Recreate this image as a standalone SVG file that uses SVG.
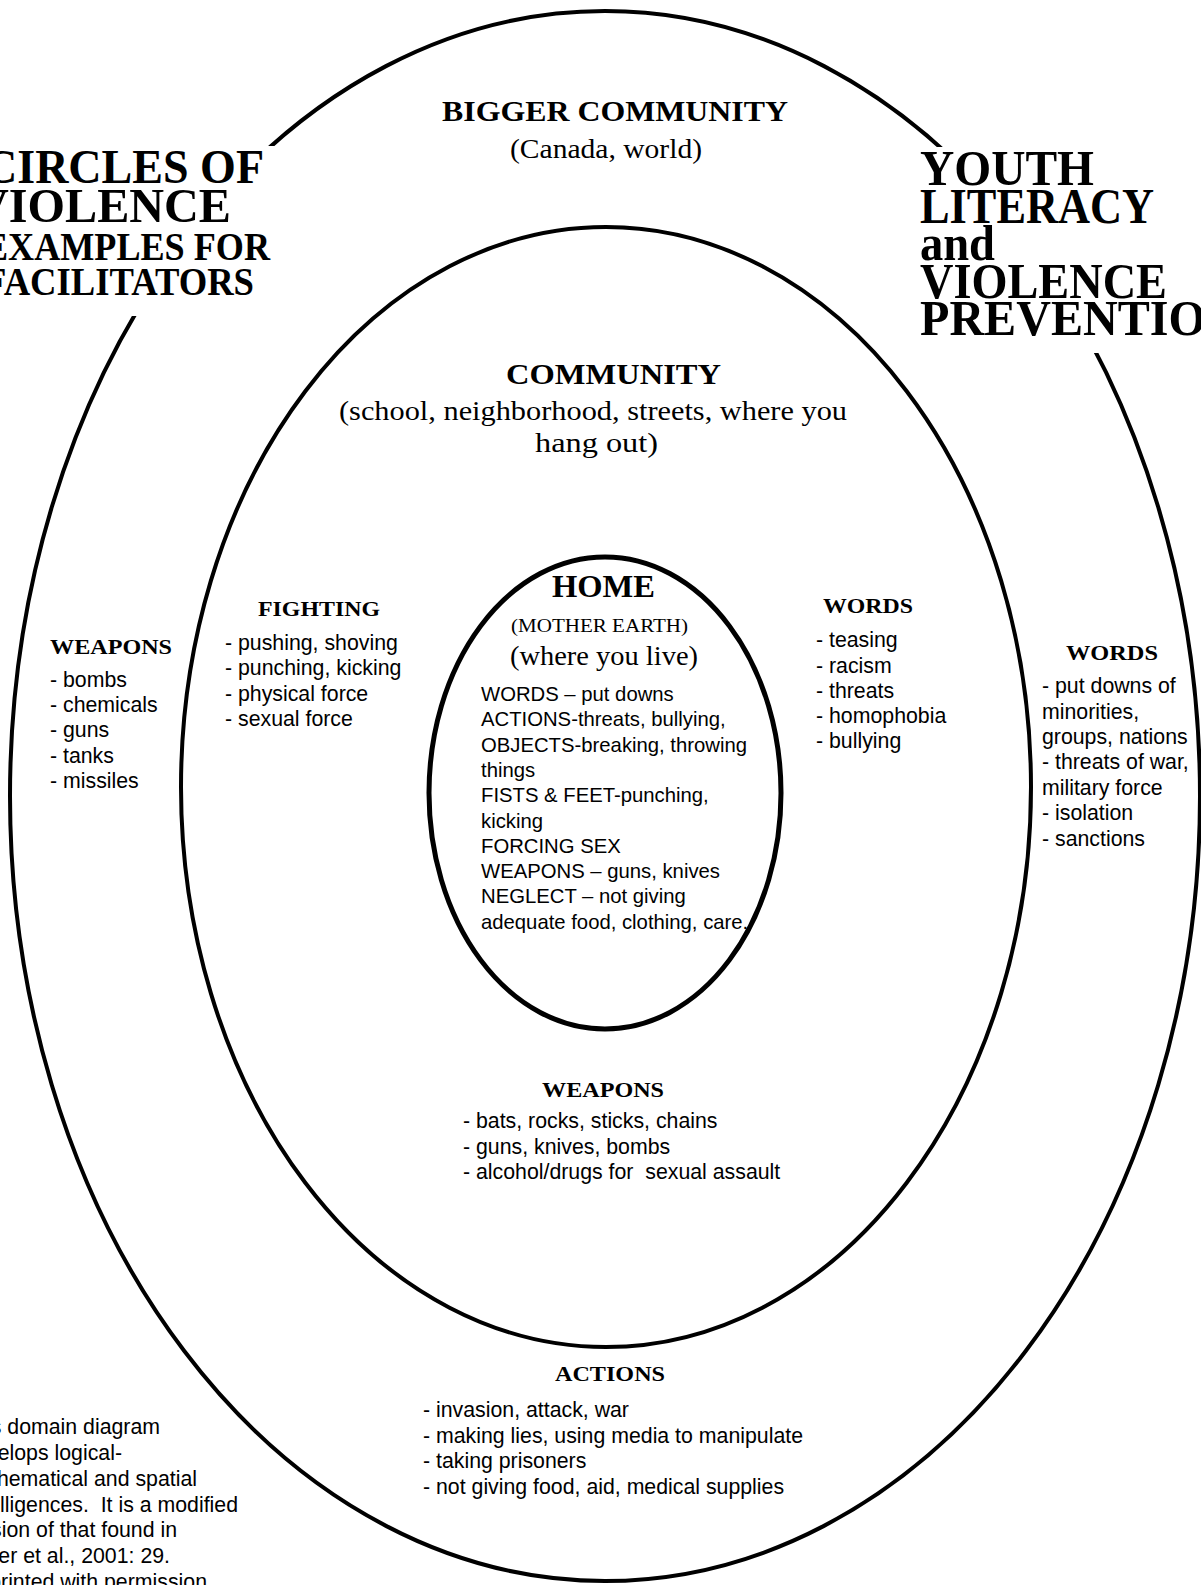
<svg xmlns="http://www.w3.org/2000/svg" width="1201" height="1585" viewBox="0 0 1201 1585">
<style>
.ring{fill:none;stroke:#000;stroke-width:4}
.inner{stroke-width:5}
.h{font-family:"Liberation Serif","Times New Roman",serif;font-weight:bold;fill:#000}
.s{font-family:"Liberation Serif","Times New Roman",serif;fill:#000}
.b{font-family:"Liberation Sans",Arial,sans-serif;font-size:21.3px;fill:#000}
.hb{font-family:"Liberation Sans",Arial,sans-serif;font-size:20.3px;fill:#000}
.mask{fill:#fff}
</style>
<rect width="1201" height="1585" fill="#fff"/>

<g id="bigger-community">
  <ellipse class="ring" cx="605" cy="796" rx="595" ry="785"/>
  <text class="h" font-size="30" x="442" y="121" textLength="346" lengthAdjust="spacingAndGlyphs">BIGGER COMMUNITY</text>
  <text class="s" font-size="28" x="510" y="158" textLength="192" lengthAdjust="spacingAndGlyphs">(Canada, world)</text>
  <g id="outer-weapons">
    <text class="h" font-size="22" x="50" y="654" textLength="122" lengthAdjust="spacingAndGlyphs">WEAPONS</text>
    <text class="b" x="50" y="687">- bombs</text>
    <text class="b" x="50" y="712">- chemicals</text>
    <text class="b" x="50" y="737">- guns</text>
    <text class="b" x="50" y="763">- tanks</text>
    <text class="b" x="50" y="788">- missiles</text>
  </g>
  <g id="outer-words">
    <text class="h" font-size="22" x="1066" y="660" textLength="92" lengthAdjust="spacingAndGlyphs">WORDS</text>
    <text class="b" x="1042" y="693">- put downs of</text>
    <text class="b" x="1042" y="719">minorities,</text>
    <text class="b" x="1042" y="744">groups, nations</text>
    <text class="b" x="1042" y="769">- threats of war,</text>
    <text class="b" x="1042" y="795">military force</text>
    <text class="b" x="1042" y="820">- isolation</text>
    <text class="b" x="1042" y="846">- sanctions</text>
  </g>
  <g id="outer-actions">
    <text class="h" font-size="22" x="555" y="1381" textLength="110" lengthAdjust="spacingAndGlyphs">ACTIONS</text>
    <text class="b" x="423" y="1417">- invasion, attack, war</text>
    <text class="b" x="423" y="1443">- making lies, using media to manipulate</text>
    <text class="b" x="423" y="1468">- taking prisoners</text>
    <text class="b" x="423" y="1494">- not giving food, aid, medical supplies</text>
  </g>
</g>

<g id="community">
  <ellipse class="ring" cx="606" cy="787" rx="425" ry="560"/>
  <text class="h" font-size="30" x="506" y="384" textLength="215" lengthAdjust="spacingAndGlyphs">COMMUNITY</text>
  <text class="s" font-size="28" x="339" y="420" textLength="508" lengthAdjust="spacingAndGlyphs">(school, neighborhood, streets, where you</text>
  <text class="s" font-size="28" x="535" y="452" textLength="123" lengthAdjust="spacingAndGlyphs">hang out)</text>
  <g id="community-fighting">
    <text class="h" font-size="22" x="258" y="616" textLength="122" lengthAdjust="spacingAndGlyphs">FIGHTING</text>
    <text class="b" x="225" y="650">- pushing, shoving</text>
    <text class="b" x="225" y="675">- punching, kicking</text>
    <text class="b" x="225" y="701">- physical force</text>
    <text class="b" x="225" y="726">- sexual force</text>
  </g>
  <g id="community-words">
    <text class="h" font-size="22" x="823" y="613" textLength="90" lengthAdjust="spacingAndGlyphs">WORDS</text>
    <text class="b" x="816" y="647">- teasing</text>
    <text class="b" x="816" y="673">- racism</text>
    <text class="b" x="816" y="698">- threats</text>
    <text class="b" x="816" y="723">- homophobia</text>
    <text class="b" x="816" y="748">- bullying</text>
  </g>
  <g id="community-weapons">
    <text class="h" font-size="22" x="542" y="1097" textLength="122" lengthAdjust="spacingAndGlyphs">WEAPONS</text>
    <text class="b" x="463" y="1128">- bats, rocks, sticks, chains</text>
    <text class="b" x="463" y="1154">- guns, knives, bombs</text>
    <text class="b" x="463" y="1179" xml:space="preserve">- alcohol/drugs for  sexual assault</text>
  </g>
</g>

<g id="home">
  <ellipse class="ring inner" cx="605" cy="793" rx="176" ry="236"/>
  <text class="h" font-size="32" x="552" y="597" textLength="103" lengthAdjust="spacingAndGlyphs">HOME</text>
  <text class="s" font-size="19" x="511" y="632" textLength="177" lengthAdjust="spacingAndGlyphs">(MOTHER EARTH)</text>
  <text class="s" font-size="27" x="510" y="665" textLength="188" lengthAdjust="spacingAndGlyphs">(where you live)</text>
  <text class="hb" x="481" y="701">WORDS – put downs</text>
  <text class="hb" x="481" y="726">ACTIONS-threats, bullying,</text>
  <text class="hb" x="481" y="752">OBJECTS-breaking, throwing</text>
  <text class="hb" x="481" y="777">things</text>
  <text class="hb" x="481" y="802">FISTS &amp; FEET-punching,</text>
  <text class="hb" x="481" y="828">kicking</text>
  <text class="hb" x="481" y="853">FORCING SEX</text>
  <text class="hb" x="481" y="878">WEAPONS – guns, knives</text>
  <text class="hb" x="481" y="903">NEGLECT – not giving</text>
  <text class="hb" x="481" y="929">adequate food, clothing, care.</text>
</g>

<g id="title-left">
  <rect class="mask" x="0" y="146" width="282" height="170"/>
  <text class="h" font-size="48" x="-16" y="183" textLength="280" lengthAdjust="spacingAndGlyphs">CIRCLES OF</text>
  <text class="h" font-size="48" x="-26" y="222" textLength="257" lengthAdjust="spacingAndGlyphs">VIOLENCE</text>
  <text class="h" font-size="40" x="-16" y="260" textLength="286" lengthAdjust="spacingAndGlyphs">EXAMPLES FOR</text>
  <text class="h" font-size="40" x="-16" y="295" textLength="270" lengthAdjust="spacingAndGlyphs">FACILITATORS</text>
</g>

<g id="title-right">
  <rect class="mask" x="905" y="147" width="296" height="206"/>
  <text class="h" font-size="50" x="920" y="185" textLength="174" lengthAdjust="spacingAndGlyphs">YOUTH</text>
  <text class="h" font-size="50" x="920" y="223" textLength="234" lengthAdjust="spacingAndGlyphs">LITERACY</text>
  <text class="h" font-size="50" x="920" y="260" textLength="75" lengthAdjust="spacingAndGlyphs">and</text>
  <text class="h" font-size="50" x="920" y="298" textLength="247" lengthAdjust="spacingAndGlyphs">VIOLENCE</text>
  <text class="h" font-size="50" x="920" y="335" textLength="286" lengthAdjust="spacingAndGlyphs">PREVENTIO</text>
</g>

<g id="note">
  <text class="b" font-size="21" x="160" y="1434" text-anchor="end">s domain diagram</text>
  <text class="b" x="122" y="1460" text-anchor="end">elops logical-</text>
  <text class="b" x="197" y="1486" text-anchor="end">hematical and spatial</text>
  <text class="b" x="238" y="1512" text-anchor="end" xml:space="preserve">lligences.  It is a modified</text>
  <text class="b" x="177" y="1537" text-anchor="end">sion of that found in</text>
  <text class="b" x="170" y="1563" text-anchor="end">er et al., 2001: 29.</text>
  <text class="b" x="207" y="1589" text-anchor="end">printed with permission</text>
</g>
</svg>
